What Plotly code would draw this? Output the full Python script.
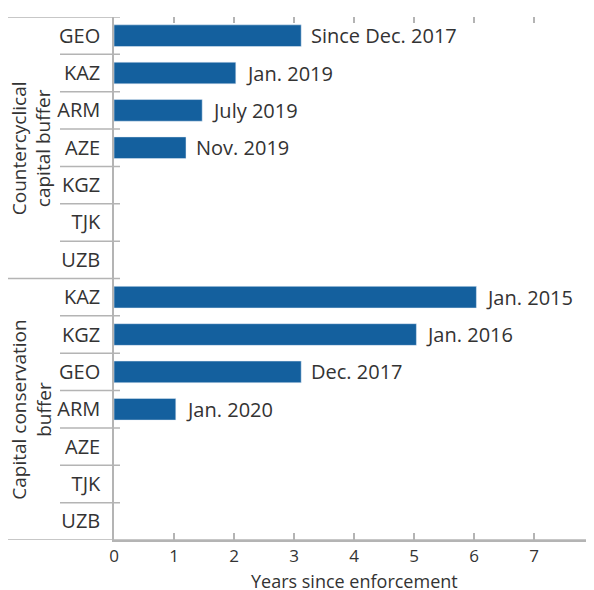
import plotly.graph_objects as go

# ----------------- data ----------------- #
ccyb_countries = ["GEO", "KAZ", "ARM", "AZE", "KGZ", "TJK", "UZB"]
ccyb_years = [3.12, 2.03, 1.47, 1.2, None, None, None]
ccyb_labels = ["Since Dec. 2017", "Jan. 2019", "July 2019", "Nov. 2019", "", "", ""]

ccb_countries = ["KAZ", "KGZ", "GEO", "ARM", "AZE", "TJK", "UZB"]
ccb_years = [6.04, 5.04, 3.12, 1.03, None, None, None]
ccb_labels = ["Jan. 2015", "Jan. 2016", "Dec. 2017", "Jan. 2020", "", "", ""]

group_names = ["Countercyclical<br>capital buffer", "Capital conservation<br>buffer"]
x_ticks = [0, 1, 2, 3, 4, 5, 6, 7, 8]

countries = ccyb_countries + ccb_countries
years = ccyb_years + ccb_years
labels = ccyb_labels + ccb_labels
rows = list(range(len(countries)))

BLUE = "#14609e"
GRID = "#b4b4b4"
TXT = "#333333"
FONT = "Open Sans"

fig = go.Figure()
fig.add_trace(go.Bar(x=years, y=rows, orientation="h", marker_color=BLUE,
                     width=0.58, hoverinfo="skip", showlegend=False))

# invisible trace to carry the top tick marks
fig.add_trace(go.Scatter(x=[0, 8], y=[None, None], xaxis="x2", mode="markers",
                         showlegend=False, hoverinfo="skip"))

for r, v, t in zip(rows, years, labels):
    if v is None:
        continue
    fig.add_annotation(x=v, y=r, text=t, showarrow=False, xanchor="left",
                       xshift=8, font=dict(size=20, color=TXT, family=FONT))

# row separators in the label column
n = len(countries)
lab_x0, grp_x0, x1 = -0.1125, -0.221, 0.0125
for k in range(n + 1):
    yb = k - 0.5
    if k in (0, len(ccyb_countries)):
        xa = grp_x0
    elif k == n:
        continue
    else:
        xa = lab_x0
    fig.add_shape(type="line", xref="paper", yref="y", x0=xa, x1=x1, y0=yb, y1=yb,
                  line=dict(color=GRID, width=1.5))
# bottom axis line extends under group labels
fig.add_shape(type="line", xref="paper", yref="y", x0=grp_x0, x1=1.02, y0=n - 0.5, y1=n - 0.5,
              line=dict(color=GRID, width=1.5))

# group labels
mids = [(len(ccyb_countries) - 1) / 2, len(ccyb_countries) + (len(ccb_countries) - 1) / 2]
for name, m in zip(group_names, mids):
    fig.add_annotation(x=-0.172, y=m, xref="paper", yref="y", text=name, showarrow=False,
                       textangle=-90, xanchor="center", yanchor="middle",
                       font=dict(size=19, color=TXT, family=FONT))

# x axis title
fig.add_annotation(x=0.5, y=-0.079, xref="paper", yref="paper", text="Years since enforcement",
                   showarrow=False, xanchor="center", yanchor="middle",
                   font=dict(size=18, color=TXT, family=FONT))

# page body adds an 8px offset, so margins are shifted accordingly
fig.update_layout(
    width=594, height=590,
    margin=dict(l=106, r=8, t=9, b=58, autoexpand=False),
    plot_bgcolor="white", paper_bgcolor="white",
    font=dict(family=FONT, color=TXT, size=18),
    xaxis=dict(range=[0, 8], tickvals=x_ticks, ticks="inside", ticklen=7, tickwidth=1.5,
               tickcolor=GRID, showline=True, linecolor=GRID, linewidth=1.5,
               showgrid=False, zeroline=False, fixedrange=True, automargin=False,
               ticklabeloverflow="allow", tickfont=dict(size=17)),
    xaxis2=dict(range=[0, 8], tickvals=x_ticks[1:-1], ticks="inside", ticklen=6, tickwidth=1.5,
                tickcolor=GRID, overlaying="x", side="top", showticklabels=False,
                showline=False, showgrid=False, zeroline=False),
    yaxis=dict(range=[n - 0.5, -0.5], tickvals=rows, ticktext=countries, ticks="",
               showline=True, linecolor=GRID, linewidth=1.5, showgrid=False, automargin=False,
               zeroline=False, tickfont=dict(size=20), ticklabelstandoff=8),
)

fig.write_html("out.html")
